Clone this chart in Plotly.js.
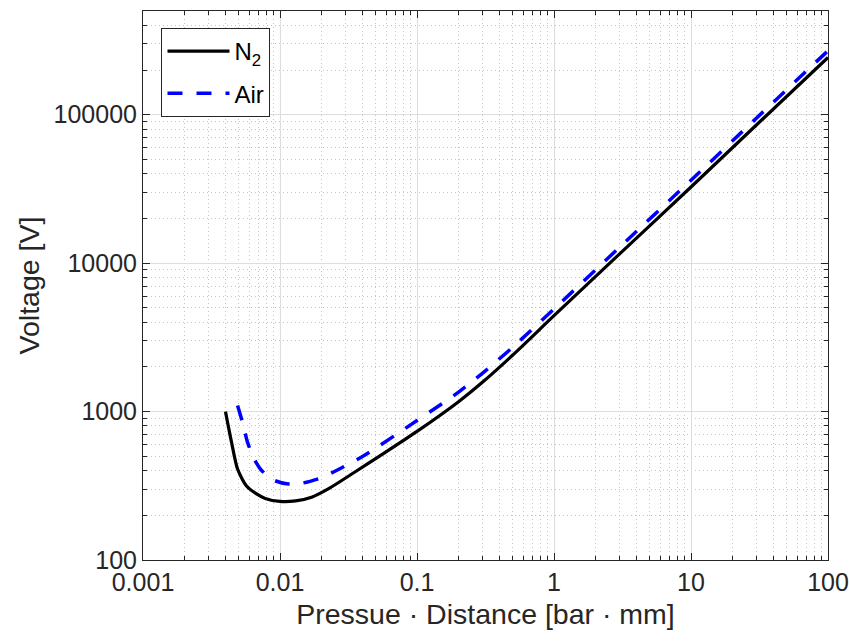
<!DOCTYPE html>
<html>
<head>
<meta charset="utf-8">
<script src="https://cdn.plot.ly/plotly-3.0.1.min.js"></script>
<style>html,body{margin:0;padding:0;background:#fff;}#chart{width:849px;height:641px;}</style>
</head>
<body>
<div id="chart"></div>
<script>
// Pressure·distance [bar·mm] and breakdown voltage [V]
const n2PD = [0.004, 0.0044, 0.0049, 0.0057, 0.0067, 0.0078, 0.01, 0.013, 0.017, 0.023, 0.035, 0.054, 0.1, 0.2, 0.3, 0.5, 1, 3, 10, 30, 100];
const n2V  = [1000, 640, 410, 315, 280, 260, 248, 250, 265, 305, 390, 505, 735, 1161, 1574, 2404, 4425, 11500, 32600, 85300, 243000];
const airPD = [0.0049, 0.0053, 0.0058, 0.0064, 0.0072, 0.0087, 0.0112, 0.0146, 0.02, 0.025, 0.04, 0.1, 0.2, 0.3, 0.5, 1, 3, 10, 30, 100];
const airV  = [1100, 860, 620, 490, 410, 350, 326, 330, 358, 395, 498, 870, 1347, 1810, 2717, 4912, 12760, 36200, 94700, 270000];

const xTickVals = [0.001, 0.01, 0.1, 1, 10, 100];
const xTickText = ["0.001", "0.01", "0.1", "1", "10", "100"];
const yTickVals = [100, 1000, 10000, 100000];
const yTickText = ["100", "1000", "10000", "100000"];

const font = "Liberation Sans, Arial, Helvetica, sans-serif";
const axisCommon = {
  type: "log",
  showline: true, linecolor: "#262626", linewidth: 1, mirror: "allticks",
  ticks: "inside", ticklen: 7, tickwidth: 1, tickcolor: "#262626",
  showgrid: true, gridcolor: "#dedede", gridwidth: 1,
  zeroline: false,
  tickmode: "array",
  tickfont: {family: font, size: 25, color: "#262626"},
  minor: {dtick: "D1", ticks: "inside", ticklen: 4, tickcolor: "#262626",
          showgrid: true, gridcolor: "#c4c4c4", griddash: "1px,3px", gridwidth: 1}
};

const data = [
  {x: n2PD, y: n2V, name: "N<sub>2</sub>", mode: "lines", type: "scatter", legendgroup: "a",
   line: {color: "#000000", width: 3.2, shape: "spline", smoothing: 0.7}},
  {x: airPD, y: airV, name: "Air", mode: "lines", type: "scatter", legendgroup: "b",
   line: {color: "#0000ff", width: 3.5, dash: "15px,14px", shape: "spline", smoothing: 0.7}}
];

const layout = {
  width: 849, height: 641,
  paper_bgcolor: "#ffffff", plot_bgcolor: "#ffffff",
  margin: {l: 143, r: 21, t: 11, b: 81},
  font: {family: font, color: "#262626"},
  showlegend: true,
  legend: {x: 0.027, y: 0.969, xanchor: "left", yanchor: "top",
           bgcolor: "#ffffff", bordercolor: "#262626", borderwidth: 1,
           font: {family: font, size: 24, color: "#000"}, itemwidth: 62,
           traceorder: "grouped", tracegroupgap: 8},
  xaxis: Object.assign({}, axisCommon, {
    range: [-3, 2], tickvals: xTickVals, ticktext: xTickText,
    title: {text: "Pressue \u00b7 Distance [bar \u00b7 mm]", font: {family: font, size: 28.5, color: "#262626"}, standoff: 9}
  }),
  yaxis: Object.assign({}, axisCommon, {
    range: [2, Math.log10(5e5)], tickvals: yTickVals, ticktext: yTickText,
    title: {text: "Voltage [V]", font: {family: font, size: 28.5, color: "#262626"}, standoff: 5}
  })
};

Plotly.newPlot("chart", data, layout, {displayModeBar: false, staticPlot: true});
</script>
</body>
</html>
